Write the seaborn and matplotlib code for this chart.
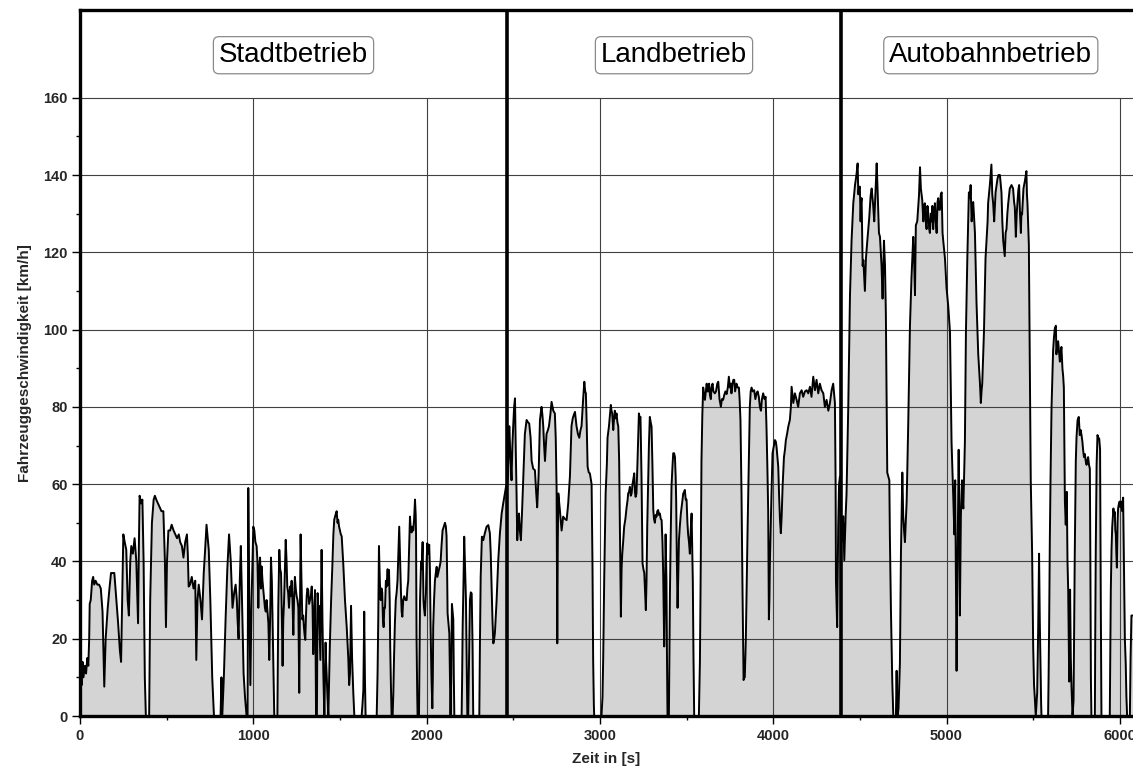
import numpy as np
import pandas as pd
import matplotlib
matplotlib.use("Agg")
import matplotlib.pyplot as plt
import seaborn as sns
from matplotlib.ticker import FixedLocator

# ---------------- data (time [s], speed [km/h]) ----------------
stadt_profile = [
    (0, 0), (4, 10), (10, 8), (15, 14), (20, 10), (28, 13), (35, 11), (42, 15), (48, 13), (53, 20),
    (56, 29), (62, 30), (70, 35), (76, 36), (82, 34), (90, 35), (100, 34), (110, 34), (120, 33), (130, 27),
    (140, 7.6), (148, 20), (160, 28), (170, 33), (179, 37), (190, 37), (198, 37), (210, 30), (220, 24), (230, 17),
    (237, 14), (243, 30), (250, 47), (258, 45), (267, 43), (275, 30), (282, 26), (290, 40), (296, 44), (305, 42),
    (315, 46), (325, 40), (335, 24), (340, 45), (344, 57), (352, 55), (360, 56), (367, 40), (374, 10), (380, 0),
    (399, 0), (405, 30), (415, 50), (425, 56), (432, 57), (440, 56), (450, 55), (460, 54), (470, 53), (481, 53),
    (490, 40), (496, 23), (502, 40), (510, 48), (520, 48), (529, 49.5), (540, 48), (550, 47), (560, 46), (570, 47),
    (578, 45), (588, 44), (597, 41), (607, 45), (617, 47), (622, 42), (627, 33.5), (635, 34), (645, 36), (655, 33),
    (665, 35), (671, 14.5), (678, 30), (685, 34), (695, 30), (704, 25), (714, 37), (722, 43), (730, 49.5), (737, 46),
    (743, 43), (752, 30), (763, 10), (773, 0), (811, 0), (816, 10), (821, 0), (830, 10), (840, 25), (850, 38),
    (860, 47), (870, 40), (880, 28), (890, 32), (898, 34), (905, 30), (909, 25), (915, 20), (922, 35), (928, 44),
    (935, 30), (944, 11), (952, 5), (961, 0), (967, 0), (971, 59), (977, 30), (983, 8), (990, 30), (1000, 49),
    (1006, 48), (1012, 45), (1019, 44), (1024, 40), (1029, 28), (1034, 38), (1039, 41), (1044, 33), (1048, 38.7), (1053, 35),
    (1058, 32.6), (1063, 30), (1067, 28), (1072, 27), (1077, 30), (1082, 27), (1087, 24), (1092, 14.5), (1097, 25), (1102, 41),
    (1107, 35), (1112, 22), (1117, 10), (1121, 0), (1139, 0), (1144, 28), (1150, 43), (1155, 38), (1160, 37), (1165, 25),
    (1169, 13), (1173, 25), (1177, 29), (1182, 37), (1187, 45.6), (1192, 40), (1196, 33.5), (1201, 32), (1206, 28), (1209, 31),
    (1212, 33.5), (1216, 31), (1221, 35), (1226, 30), (1231, 21), (1235, 30), (1240, 36), (1245, 33), (1250, 31), (1255, 30),
    (1260, 28), (1265, 6), (1269, 25), (1273, 47), (1278, 35), (1283, 25), (1288, 26), (1292, 23), (1296, 21), (1300, 19.7),
    (1304, 26), (1308, 31), (1312, 33), (1317, 32.6), (1322, 29), (1327, 30), (1332, 31), (1337, 33.5), (1342, 28), (1346, 16),
    (1351, 25), (1356, 32.6), (1359, 20), (1362, 0), (1367, 0), (1371, 31.8), (1375, 28), (1379, 28.5), (1383, 22), (1387, 14.5),
    (1391, 30), (1394, 43), (1399, 25), (1404, 11), (1410, 0), (1414, 10), (1417, 19), (1420, 14), (1423, 11), (1428, 5),
    (1433, 0), (1437, 8), (1442, 19), (1449, 30), (1456, 38.7), (1462, 47), (1467, 50.8), (1474, 52), (1481, 53), (1486, 50),
    (1490, 50.8), (1495, 49), (1500, 48), (1505, 47), (1510, 46.5), (1519, 39.5), (1529, 30), (1539, 23), (1548, 15), (1553, 8),
    (1558, 11), (1561, 20), (1564, 28.5), (1570, 15), (1577, 6), (1583, 0), (1625, 0), (1630, 3), (1635, 6.7), (1640, 27),
    (1644, 10), (1648, 0), (1712, 0), (1717, 11), (1721, 25), (1725, 44), (1730, 35), (1735, 30), (1740, 33), (1744, 32),
    (1748, 25), (1752, 23), (1756, 28), (1760, 28), (1765, 35), (1769, 33.5), (1775, 38), (1779, 34), (1783, 37.8), (1787, 30),
    (1790, 18), (1794, 8), (1798, 0), (1804, 0), (1808, 6), (1812, 15), (1817, 24), (1822, 30), (1827, 32), (1832, 35),
    (1837, 42), (1842, 49), (1847, 40), (1852, 32), (1856, 27), (1860, 25.7), (1865, 30), (1871, 31), (1878, 30), (1885, 30),
    (1889, 33), (1894, 35), (1899, 43), (1904, 51.6), (1909, 48), (1914, 47.5), (1918, 49), (1923, 48), (1928, 51), (1933, 56),
    (1937, 52), (1939, 47), (1942, 20), (1946, 5), (1948, 0), (1956, 0), (1962, 30), (1968, 40), (1971, 38), (1977, 45),
    (1982, 30), (1985, 28), (1990, 26), (1996, 31.7), (2000, 40), (2004, 44.7), (2010, 42), (2015, 44.3), (2019, 38), (2023, 23),
    (2028, 10), (2033, 2), (2036, 10), (2038, 23), (2043, 30), (2048, 35), (2053, 37), (2058, 38.6), (2062, 36), (2067, 37),
    (2072, 38), (2077, 39), (2081, 40), (2086, 44), (2092, 48), (2099, 49), (2106, 50), (2111, 49), (2115, 46.6), (2119, 35),
    (2121, 26.6), (2126, 24), (2131, 21.4), (2135, 10), (2138, 0), (2142, 10), (2146, 29), (2150, 27), (2154, 25), (2157, 10),
    (2160, 0), (2202, 0), (2205, 10), (2208, 23), (2213, 35), (2217, 46.4), (2222, 38), (2227, 30), (2231, 15), (2235, 0),
    (2240, 0), (2245, 15), (2250, 30), (2255, 32), (2260, 31.7), (2265, 18.8), (2269, 0), (2304, 0), (2308, 20), (2312, 36),
    (2319, 46.4), (2327, 45.5), (2336, 47.3), (2346, 49), (2356, 49.4), (2365, 47.3), (2370, 42), (2375, 33.5), (2380, 25), (2385, 18.8),
    (2390, 20), (2394, 21.4), (2404, 30), (2413, 40), (2423, 47.3), (2433, 52.4), (2442, 55), (2452, 57.6), (2458, 59.3),
]

land_profile = [
    (2465, 60), (2470, 62), (2477, 75), (2483, 68), (2490, 61), (2495, 70), (2500, 75.4), (2505, 80), (2510, 82.2), (2514, 70),
    (2519, 57.6), (2523, 45.5), (2528, 50), (2533, 52.4), (2538, 48), (2544, 45.5), (2550, 52), (2558, 62), (2567, 73), (2577, 76.6),
    (2585, 76), (2592, 75.7), (2600, 72), (2606, 66), (2615, 64), (2625, 63.6), (2632, 58), (2638, 54), (2646, 62), (2654, 76.6),
    (2663, 80), (2668, 78), (2673, 75), (2678, 70), (2683, 66), (2688, 70), (2692, 73), (2700, 74), (2706, 75), (2714, 78),
    (2721, 81.3), (2731, 79), (2740, 78.3), (2745, 72), (2750, 59), (2754, 18.8), (2757, 45), (2760, 57.6), (2769, 53.3), (2779, 48),
    (2788, 51.6), (2798, 51), (2808, 50.7), (2817, 55), (2827, 62), (2836, 75), (2843, 77), (2850, 78), (2856, 78.7), (2865, 75),
    (2873, 73), (2881, 72), (2888, 74), (2894, 75), (2904, 82.6), (2910, 86.5), (2915, 84), (2919, 83.5), (2924, 75), (2929, 64.5),
    (2936, 63), (2942, 62.8), (2952, 60), (2957, 40), (2961, 14.5), (2965, 3), (2967, 0), (3009, 0), (3015, 5), (3019, 15),
    (3025, 36), (3033, 57.6), (3040, 65), (3044, 72), (3052, 74.9), (3058, 78), (3063, 80.5), (3067, 79), (3071, 78.3), (3074, 76),
    (3077, 74), (3080, 76), (3086, 79), (3091, 77), (3096, 78.3), (3101, 76), (3106, 74.9), (3111, 66), (3114, 55), (3117, 42),
    (3121, 25.7), (3125, 38), (3129, 42), (3134, 45), (3140, 49), (3147, 51), (3154, 54), (3160, 56), (3163, 57.6), (3168, 58),
    (3173, 59.3), (3178, 57), (3183, 57.6), (3188, 60), (3192, 61), (3198, 62.8), (3202, 58), (3206, 56.7), (3211, 57.6), (3217, 66),
    (3225, 78.3), (3230, 77), (3234, 77.4), (3240, 62), (3243, 50), (3246, 39.5), (3251, 38), (3256, 37), (3260, 33), (3265, 27.4),
    (3269, 35), (3273, 49), (3278, 60), (3283, 70.5), (3288, 77.4), (3293, 76), (3298, 74.9), (3303, 65), (3308, 53.3), (3312, 51),
    (3317, 50), (3322, 52), (3327, 51.6), (3331, 53), (3336, 53.3), (3341, 52), (3346, 52.4), (3351, 51), (3356, 50.7), (3361, 45),
    (3365, 37), (3369, 25), (3371, 18), (3375, 30), (3379, 47), (3382, 40), (3384, 35), (3387, 15), (3390, 0), (3398, 0),
    (3401, 15), (3404, 31.7), (3408, 45), (3413, 59.3), (3418, 64), (3423, 68), (3428, 68), (3433, 67), (3437, 62), (3440, 56),
    (3444, 40), (3448, 28), (3452, 36), (3456, 45.5), (3461, 49), (3467, 52.4), (3474, 55), (3481, 57.6), (3486, 58), (3490, 58.5),
    (3495, 56), (3500, 56), (3505, 50), (3509, 47), (3514, 45), (3519, 42), (3524, 48), (3529, 52.4), (3532, 45), (3536, 35),
    (3540, 15), (3544, 0), (3571, 0), (3577, 14), (3582, 40), (3586, 66), (3591, 78), (3596, 85), (3601, 83), (3606, 81.8),
    (3611, 84), (3616, 86), (3620, 84), (3625, 84), (3630, 86), (3635, 83), (3640, 82), (3644, 85), (3650, 86), (3655, 84),
    (3663, 83.5), (3670, 84), (3677, 86), (3683, 86.5), (3690, 82), (3698, 80), (3704, 82), (3711, 81.8), (3717, 83), (3724, 84),
    (3731, 83.3), (3738, 85), (3744, 87.8), (3750, 85), (3755, 86), (3759, 83.5), (3765, 86), (3770, 87), (3775, 87), (3780, 84),
    (3788, 86), (3795, 85), (3802, 85), (3806, 82), (3811, 76.6), (3817, 57.6), (3823, 31.7), (3829, 9.3), (3833, 10), (3836, 10),
    (3842, 20), (3846, 31.7), (3852, 48), (3859, 66), (3865, 80), (3870, 84), (3875, 85), (3882, 84), (3890, 84.3), (3897, 82),
    (3904, 83.5), (3910, 84), (3917, 82.6), (3923, 80), (3929, 79), (3935, 82), (3942, 83.5), (3950, 82), (3956, 82.6), (3961, 75),
    (3966, 65), (3971, 53), (3975, 25), (3978, 30), (3981, 40), (3990, 57.6), (3996, 68), (4004, 70), (4010, 71.4), (4015, 71),
    (4019, 69.7), (4024, 67), (4029, 64.5), (4034, 57), (4039, 50.7), (4044, 47.3), (4049, 52), (4054, 59.3), (4062, 67), (4068, 69),
    (4073, 71.4), (4080, 73), (4087, 74.9), (4096, 76.6), (4102, 80), (4106, 85.2), (4116, 81), (4125, 83.5), (4135, 81.8), (4144, 80),
    (4154, 83.5), (4164, 84.3), (4173, 82.6), (4183, 84), (4193, 84.3), (4202, 83.5), (4212, 85.2), (4221, 82.6), (4231, 87.8), (4241, 84.3),
    (4250, 87), (4260, 83.5), (4269, 86), (4279, 84.3), (4289, 83.5), (4298, 80), (4308, 81.8), (4318, 79), (4327, 80.9), (4337, 84.3),
    (4346, 86), (4356, 81), (4360, 60), (4362, 35), (4366, 28), (4369, 23), (4372, 35), (4375, 49), (4380, 60), (4385, 62),
]

autobahn_profile = [
    (4390, 50), (4395, 45), (4400, 48), (4404, 51.7), (4410, 40.3), (4418, 52), (4423, 57.4), (4433, 80), (4443, 109), (4452, 123),
    (4462, 132.7), (4472, 137.4), (4481, 140.3), (4487, 143), (4491, 135), (4495, 136.5), (4500, 137), (4504, 128), (4507, 133), (4510, 134),
    (4516, 116.5), (4520, 118), (4523, 115.5), (4529, 110), (4535, 118.4), (4543, 123), (4554, 128.9), (4562, 134.6), (4568, 136.5), (4573, 134),
    (4577, 132), (4583, 128), (4591, 136.5), (4597, 143), (4602, 136.5), (4610, 125), (4616, 124), (4625, 116.5), (4631, 108), (4639, 123),
    (4645, 116.5), (4650, 104), (4658, 63), (4664, 62), (4670, 61), (4673, 47), (4679, 28), (4687, 8.9), (4693, 0), (4708, 0),
    (4712, 11.7), (4715, 3), (4718, 0), (4723, 2), (4731, 13.6), (4737, 42), (4745, 63), (4750, 52), (4755, 48), (4760, 45),
    (4765, 50), (4770, 55.5), (4779, 75.5), (4789, 101), (4798, 113.6), (4808, 124), (4813, 118), (4818, 108.9), (4823, 127), (4831, 128),
    (4841, 134.6), (4847, 142), (4852, 136.5), (4860, 133.5), (4866, 128), (4870, 132), (4875, 132.7), (4880, 128), (4885, 126), (4890, 132),
    (4895, 130), (4900, 126), (4904, 125), (4910, 130), (4914, 128), (4918, 132), (4923, 126), (4928, 130), (4933, 132.7), (4938, 128),
    (4943, 125), (4948, 133), (4952, 134), (4957, 131), (4962, 131), (4967, 135), (4972, 135.5), (4977, 125), (4981, 123), (4991, 118.4),
    (5000, 110.8), (5010, 106), (5020, 99.3), (5029, 70.8), (5039, 56.5), (5045, 47), (5050, 61), (5054, 35), (5058, 11.7), (5061, 30),
    (5064, 42), (5067, 55), (5070, 68.9), (5074, 50), (5077, 26), (5080, 40), (5083, 52), (5089, 61), (5093, 56), (5097, 53.7),
    (5106, 70.8), (5112, 99.3), (5120, 118.4), (5129, 135.5), (5135, 134), (5139, 137.4), (5145, 128), (5150, 132), (5154, 133), (5160, 128),
    (5164, 125), (5173, 107), (5183, 93.6), (5193, 86), (5198, 81), (5202, 84), (5206, 86), (5216, 99.3), (5225, 118.4), (5231, 123),
    (5237, 128), (5240, 132.7), (5250, 137.4), (5259, 142.7), (5264, 135), (5269, 132.7), (5275, 128), (5283, 135.5), (5294, 139), (5300, 140),
    (5308, 140), (5317, 135.5), (5322, 128), (5327, 123), (5336, 119), (5341, 125), (5346, 126), (5351, 130), (5356, 132.7), (5365, 136.5),
    (5375, 137.4), (5384, 136.5), (5390, 133), (5394, 131.7), (5400, 124), (5405, 130), (5409, 132.7), (5414, 136), (5419, 137.4), (5424, 130),
    (5429, 125), (5432, 130), (5436, 129.8), (5444, 136.5), (5452, 138.4), (5461, 141), (5464, 135), (5467, 132.7), (5475, 122), (5481, 89.8),
    (5486, 61), (5494, 42), (5500, 18), (5505, 8), (5509, 5), (5515, 0), (5519, 3), (5523, 6), (5529, 23), (5534, 42),
    (5538, 25), (5542, 13.6), (5546, 3), (5548, 0), (5586, 0), (5589, 10), (5592, 23), (5596, 45), (5600, 61), (5606, 80),
    (5615, 94.6), (5620, 98), (5625, 100.3), (5631, 101), (5634, 93.6), (5639, 96), (5644, 97), (5650, 94), (5654, 91.7), (5659, 94),
    (5663, 95.5), (5669, 89.8), (5673, 88), (5677, 85), (5683, 55.5), (5688, 49.5), (5694, 58), (5698, 40), (5702, 32.7), (5708, 8.9),
    (5713, 32.7), (5717, 15), (5721, 7.8), (5727, 0), (5733, 4), (5740, 42), (5746, 66), (5750, 72), (5756, 76.5), (5763, 77.4),
    (5769, 72.7), (5774, 74), (5779, 72.7), (5784, 71), (5788, 68.9), (5793, 67), (5798, 67.8), (5803, 66), (5808, 65), (5812, 66),
    (5817, 67), (5822, 65), (5827, 64), (5830, 40), (5833, 10), (5836, 0), (5856, 0), (5858, 20), (5861, 42), (5866, 65),
    (5871, 72.7), (5876, 72), (5881, 71.8), (5886, 69), (5890, 30), (5894, 0), (5942, 0), (5945, 15), (5948, 32.7), (5952, 43),
    (5956, 48.9), (5963, 53.7), (5967, 52), (5971, 52.8), (5974, 48), (5977, 47), (5980, 42), (5983, 38.4), (5987, 50), (5990, 53.7),
    (5995, 55), (5999, 55.5), (6004, 54), (6009, 55.5), (6014, 53), (6019, 56.5), (6022, 45), (6025, 32.7), (6029, 20), (6034, 13.6),
    (6038, 5), (6042, 0), (6058, 0), (6062, 15), (6067, 26), (6075, 26),
]

section_names = ["Stadtbetrieb", "Landbetrieb", "Autobahnbetrieb"]
section_bounds = [0, 2464, 4391, 6120]
x_ticks = [0, 1000, 2000, 3000, 4000, 5000, 6000]
y_ticks = [0, 20, 40, 60, 80, 100, 120, 140, 160]
x_label = "Zeit in [s]"
y_label = "Fahrzeuggeschwindigkeit [km/h]"

# ---------------- build table ----------------
rows = stadt_profile + land_profile + autobahn_profile
df = pd.DataFrame(rows, columns=["t", "v"])

# ---------------- figure ----------------
sns.set_theme(style="white")
plt.rcParams["font.family"] = ["Liberation Sans", "DejaVu Sans"]

W, H = 1133, 771
fig = plt.figure(figsize=(W / 100, H / 100), dpi=100)
ax = fig.add_axes([80 / W, 55 / H, (W - 80) / W, (716 - 10) / H])

ax.fill_between(df["t"], df["v"], 0, color="#d4d4d4", lw=0, zorder=1)

grid_col = "#404040"
for y in y_ticks[1:]:
    ax.axhline(y, color=grid_col, lw=0.8, zorder=2)
ax.vlines(x_ticks[1:], 0, max(y_ticks), color=grid_col, lw=0.8, zorder=2)

sns.lineplot(data=df, x="t", y="v", ax=ax, color="black", lw=1.4,
             estimator=None, sort=False, legend=False, zorder=3)

for b in section_bounds[1:-1]:
    ax.axvline(b, color="black", lw=2.6, zorder=4)

for name, a, b in zip(section_names, section_bounds[:-1], section_bounds[1:]):
    ax.text((a + b) / 2, 171, name, ha="center", va="center", fontsize=20,
            color="black", zorder=5,
            bbox=dict(boxstyle="round,pad=0.2", fc="white", ec="#8a8a8a", lw=0.9))

ax.set_xlim(0, 6076)
ax.set_ylim(0, 182.7)
ax.set_xticks(x_ticks)
ax.set_yticks(y_ticks)
ax.xaxis.set_minor_locator(FixedLocator([x + 500 for x in x_ticks]))
ax.yaxis.set_minor_locator(FixedLocator([y + 10 for y in y_ticks[:-1]]))
ax.tick_params(axis="both", which="major", direction="out", length=6, width=1,
               color="black", labelsize=10.5, pad=3, bottom=True, left=True)
ax.tick_params(axis="both", which="minor", direction="out", length=3, width=1,
               color="black", bottom=True, left=True)
for lab in ax.get_xticklabels() + ax.get_yticklabels():
    lab.set_fontweight("bold")

for side in ["left", "bottom", "top"]:
    ax.spines[side].set_visible(True)
    ax.spines[side].set_color("black")
    ax.spines[side].set_linewidth(2.4)
ax.spines["right"].set_visible(False)

ax.set_xlabel(x_label, fontsize=11, fontweight="bold", labelpad=7)
ax.set_ylabel(y_label, fontsize=11, fontweight="bold", labelpad=8)
ax.set_facecolor("white")
fig.patch.set_facecolor("white")

fig.savefig("out.png", dpi=100)
